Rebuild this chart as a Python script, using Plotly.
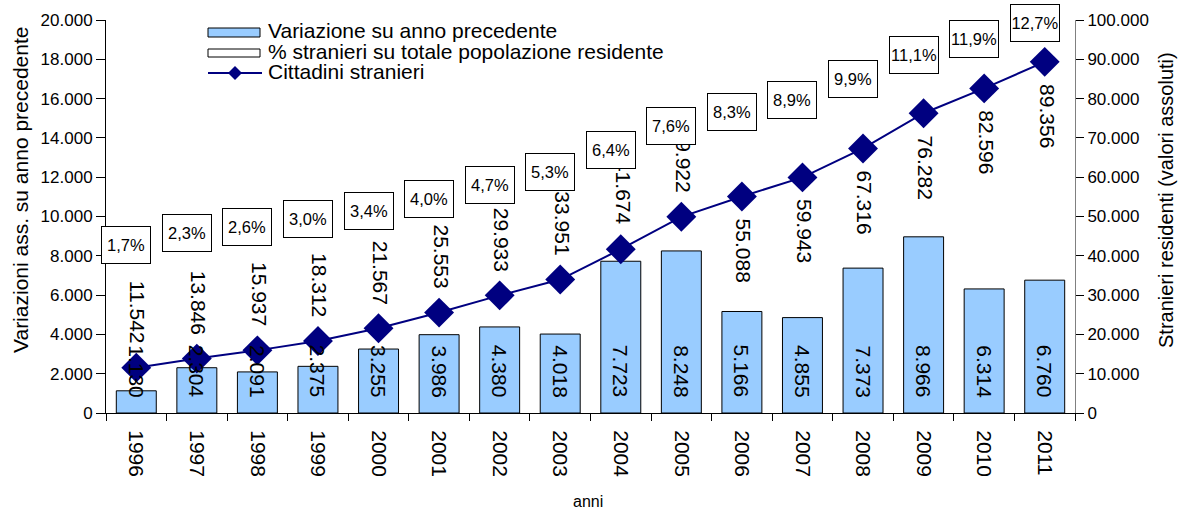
import plotly.graph_objects as go

years = ["1996", "1997", "1998", "1999", "2000", "2001", "2002", "2003",
         "2004", "2005", "2006", "2007", "2008", "2009", "2010", "2011"]
variazione = [1130, 2304, 2091, 2375, 3255, 3986, 4380, 4018,
              7723, 8248, 5166, 4855, 7373, 8966, 6314, 6760]
stranieri = [11542, 13846, 15937, 18312, 21567, 25553, 29933, 33951,
             41674, 49922, 55088, 59943, 67316, 76282, 82596, 89356]
pct_stranieri = [1.7, 2.3, 2.6, 3.0, 3.4, 4.0, 4.7, 5.3,
                 6.4, 7.6, 8.3, 8.9, 9.9, 11.1, 11.9, 12.7]

left_ticks = list(range(0, 20001, 2000))
right_ticks = list(range(0, 100001, 10000))

FONT = "Liberation Sans, Arial, sans-serif"
W, H = 1192, 511
L, R, T, B = 106, 117, 20, 98
PW, PH = W - L - R, H - T - B


def px(x):
    return (x - L) / PW


def py(y):
    return (H - B - y) / PH


def it(v):
    return f"{v:,}".replace(",", ".")


def pc(v):
    return f"{v:.1f}".replace(".", ",") + "%"


fig = go.Figure()
fig.add_trace(go.Bar(
    x=years, y=variazione, name="Variazione su anno precedente",
    marker=dict(color="#99CCFF", line=dict(color="#000000", width=1)),
    showlegend=False, yaxis="y"))
fig.add_trace(go.Scatter(
    x=years, y=stranieri, name="Cittadini stranieri", mode="lines+markers",
    line=dict(color="#000080", width=2),
    marker=dict(symbol="diamond", size=23, color="#000080"),
    showlegend=False, yaxis="y2"))

ann = []
# bar labels (x given as category index)
for i, v in enumerate(variazione):
    ann.append(dict(x=i, y=0, xref="x", yref="y", text=it(v), textangle=90,
                    showarrow=False, xanchor="center", yanchor="bottom",
                    yshift=13,
                    font=dict(family=FONT, size=21, color="#000")))
# line labels
for i, (yr, v) in enumerate(zip(years, stranieri)):
    above = int(yr) <= 2005
    ann.append(dict(x=i, y=v, xref="x", yref="y2", text=it(v), textangle=90,
                    showarrow=False, xanchor="center",
                    yanchor="bottom" if above else "top",
                    yshift=22 if above else -20, xshift=2,
                    font=dict(family=FONT, size=21, color="#000")))
# percentage boxes
for i, p in enumerate(pct_stranieri):
    ann.append(dict(x=i, y=p, xref="x", yref="y4", text=pc(p),
                    showarrow=False, xanchor="center", yanchor="middle",
                    xshift=-10, width=46, height=34,
                    bgcolor="#FFFFFF", bordercolor="#000000", borderwidth=1,
                    borderpad=1,
                    font=dict(family=FONT, size=16.5, color="#000")))

# axis titles
ann.append(dict(x=px(20), y=py(190), xref="paper", yref="paper",
                xanchor="center", yanchor="middle",
                text="Variazioni ass. su anno precedente", textangle=-90,
                showarrow=False, font=dict(family=FONT, size=21, color="#000")))
ann.append(dict(x=px(1166), y=py(200), xref="paper", yref="paper",
                xanchor="center", yanchor="middle",
                text="Stranieri residenti (valori assoluti)", textangle=-90,
                showarrow=False, font=dict(family=FONT, size=20, color="#000")))
ann.append(dict(x=px(588), y=py(501), xref="paper", yref="paper",
                xanchor="center", yanchor="middle",
                text="anni", showarrow=False,
                font=dict(family=FONT, size=16, color="#000")))

# manual legend
shapes = []
legend_rows = [("Variazione su anno precedente", 31),
               ("% stranieri su totale popolazione residente", 52),
               ("Cittadini stranieri", 72)]
shapes.append(dict(type="rect", xref="paper", yref="paper",
                   x0=px(208), x1=px(260), y0=py(37), y1=py(28),
                   fillcolor="#99CCFF", line=dict(color="#000", width=1)))
shapes.append(dict(type="rect", xref="paper", yref="paper",
                   x0=px(208), x1=px(260), y0=py(57), y1=py(49),
                   fillcolor="#FFFFFF", line=dict(color="#000", width=1)))
shapes.append(dict(type="line", xref="paper", yref="paper",
                   x0=px(208), x1=px(262), y0=py(73), y1=py(73),
                   line=dict(color="#000080", width=2)))
cx, cy, d = 235, 73, 7
shapes.append(dict(type="path", xref="paper", yref="paper",
                   path=(f"M {px(cx - d)} {py(cy)} L {px(cx)} {py(cy - d)} "
                         f"L {px(cx + d)} {py(cy)} L {px(cx)} {py(cy + d)} Z"),
                   fillcolor="#000080", line=dict(color="#000080", width=0)))
for txt, yy in legend_rows:
    ann.append(dict(x=px(266), y=py(yy), xref="paper", yref="paper",
                    text=txt, showarrow=False, xanchor="left", yanchor="middle",
                    font=dict(family=FONT, size=21, color="#000")))

tickfont = dict(family=FONT, size=17, color="#000")
fig.update_layout(
    width=W, height=H, autosize=False,
    margin=dict(l=L, r=R, t=T, b=B, pad=0),
    paper_bgcolor="#FFFFFF", plot_bgcolor="#FFFFFF",
    separators=",.",
    bargap=0.34,
    font=dict(family=FONT, color="#000"),
    xaxis=dict(type="category", categoryorder="array", categoryarray=years,
               tickangle=90, tickson="boundaries", ticks="outside", ticklen=7,
               ticklabelstandoff=12,
               tickcolor="#000", showline=True, linecolor="#000", linewidth=1,
               showgrid=False, tickfont=dict(family=FONT, size=21, color="#000"),
               range=[-0.5, 15.5]),
    xaxis2=dict(overlaying="x", anchor="y", range=[-0.5, 15.5],
                tickmode="array", tickvals=[i - 0.5 for i in range(17)],
                ticks="inside", ticklen=4, tickcolor="#000",
                showticklabels=False, showgrid=False, zeroline=False,
                showline=False),
    yaxis=dict(range=[0, 20000], tickmode="array", tickvals=left_ticks,
               tickformat=",d", ticks="outside", ticklen=9, tickcolor="#000",
               showline=True, linecolor="#000", linewidth=1, showgrid=False,
               zeroline=False, tickfont=tickfont),
    yaxis2=dict(range=[0, 100000], tickmode="array", tickvals=right_ticks,
                tickformat=",d", overlaying="y", side="right",
                ticks="outside", ticklen=8, tickcolor="#000",
                showline=True, linecolor="#808080", linewidth=1,
                showgrid=False, zeroline=False, tickfont=tickfont),
    yaxis3=dict(range=[0, 20000], overlaying="y", side="left",
                tickmode="array", tickvals=left_ticks, ticks="inside",
                ticklen=4, tickcolor="#000", showticklabels=False,
                showgrid=False, zeroline=False, showline=False),
    yaxis4=dict(range=[-6.59, 12.83], overlaying="y", visible=False),
    yaxis5=dict(range=[0, 100000], overlaying="y", side="right",
                tickmode="array", tickvals=right_ticks, ticks="inside",
                ticklen=8, tickcolor="#000", showticklabels=False,
                showgrid=False, zeroline=False, showline=False),
    annotations=ann, shapes=shapes,
)

fig.write_html("out.html", config={"displayModeBar": False},
               post_script="document.body.style.margin='0';")
